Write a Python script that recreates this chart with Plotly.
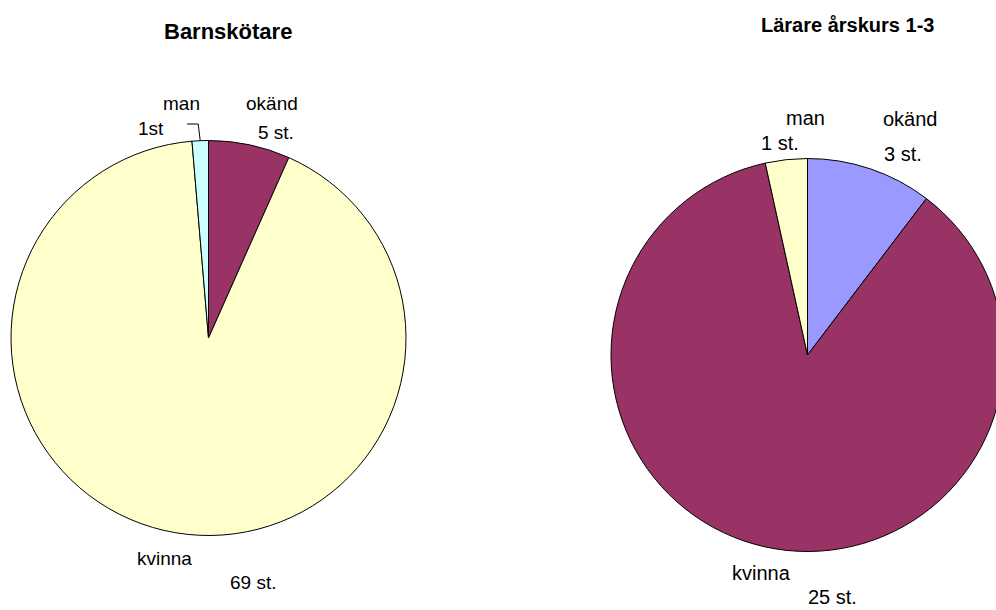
import math
import plotly.graph_objects as go

# ---- data ----
categories = ["okänd", "kvinna", "man"]
barn_values = [5, 69, 1]
barn_colors = ["#993366", "#FFFFCC", "#CCFFFF"]
larare_values = [3, 25, 1]
larare_colors = ["#9999FF", "#993366", "#FFFFCC"]
titles = ["Barnskötare", "Lärare årskurs 1-3"]
barn_count_labels = ["5 st.", "69 st.", "1st"]
larare_count_labels = ["3 st.", "25 st.", "1 st."]

W, H = 1010, 610
FONT = "Liberation Sans, Arial, sans-serif"

def px_dom(x0, x1, y0, y1):
    return dict(x=[x0 / W, x1 / W], y=[1 - y1 / H, 1 - y0 / H])

left_dom = px_dom(11, 406, 139, 537)
right_dom = px_dom(611, 1004, 158, 552)

fig = go.Figure()
for vals, cols, dom in [(barn_values, barn_colors, left_dom),
                        (larare_values, larare_colors, right_dom)]:
    fig.add_trace(go.Pie(
        labels=categories, values=vals, sort=False, direction="clockwise",
        rotation=0, domain=dom, textinfo="none", hoverinfo="label+value",
        marker=dict(colors=cols, line=dict(color="#000000", width=1)),
        showlegend=False,
    ))

def ann(x, y, text, size=19, bold=False):
    return dict(x=x / W, y=1 - y / H, xref="paper", yref="paper",
                text=f"<b>{text}</b>" if bold else text, showarrow=False,
                font=dict(family=FONT, size=size, color="#000000"),
                xanchor="center", yanchor="middle")

annotations = [
    ann(228, 31, titles[0], 22, True),
    ann(847, 25, titles[1], 20, True),
    # left pie
    ann(181, 103, categories[2]), ann(151, 128, barn_count_labels[2]),
    ann(272, 103, categories[0]), ann(276, 133, barn_count_labels[0]),
    ann(164, 558, categories[1]), ann(253, 582, barn_count_labels[1]),
    # right pie
    ann(805, 118, categories[2], 20), ann(780, 143, larare_count_labels[2], 20),
    ann(910, 119, categories[0], 20), ann(903, 154, larare_count_labels[0], 20),
    ann(761, 573, categories[1], 20), ann(832, 597, larare_count_labels[1], 20),
]

# leader line for "man" slice on the left pie, ending at the slice's mid-angle edge
cx = (left_dom["x"][0] + left_dom["x"][1]) / 2 * W
cy = (1 - (left_dom["y"][0] + left_dom["y"][1]) / 2) * H
r = min((left_dom["x"][1] - left_dom["x"][0]) * W, (left_dom["y"][1] - left_dom["y"][0]) * H) / 2
total = sum(barn_values)
mid = -(barn_values[2] / 2) / total * 2 * math.pi
ex = cx + r * math.sin(mid)
ey = cy - r * math.cos(mid)
sx, sy = 187, 124
path = f"M {sx / W} {1 - sy / H} L {(ex - 2) / W} {1 - sy / H} L {ex / W} {1 - ey / H}"
shapes = [dict(type="path", xref="paper", yref="paper", path=path,
               line=dict(color="#000000", width=1))]

fig.update_layout(
    width=W, height=H, margin=dict(l=0, r=0, t=0, b=0),
    paper_bgcolor="#FFFFFF", plot_bgcolor="#FFFFFF",
    annotations=annotations, shapes=shapes,
    font=dict(family=FONT),
)

fig.write_html("out.html", config={"displayModeBar": False},
               post_script="document.body.style.margin='0';document.body.style.overflow='hidden';")
